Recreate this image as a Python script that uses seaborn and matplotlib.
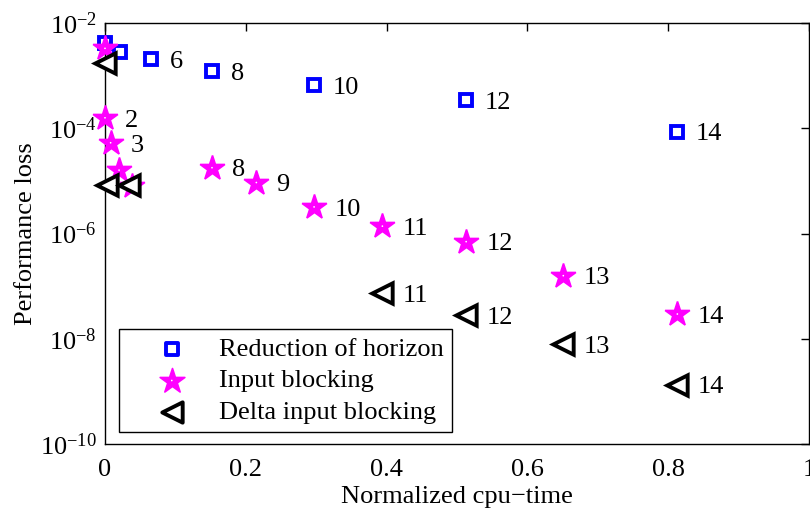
import matplotlib
matplotlib.use("Agg")
import matplotlib.pyplot as plt
import seaborn as sns

# Reduction of horizon
horizon_cpu = [0.000, 0.021, 0.065, 0.152, 0.297, 0.513, 0.813]
horizon_loss = [4.2e-3, 2.85e-3, 2.04e-3, 1.22e-3, 6.6e-4, 3.4e-4, 8.6e-5]
horizon_tags = ["", "", "6", "8", "10", "12", "14"]

# Input blocking
block_cpu = [0.000, 0.000, 0.008, 0.020, 0.038, 0.152, 0.215, 0.297, 0.394, 0.513, 0.651, 0.813]
block_loss = [3.3e-3, 1.58e-4, 5.3e-5, 1.6e-5, 8.1e-6, 1.78e-5, 9.3e-6, 3.2e-6, 1.38e-6, 7.0e-7, 1.58e-7, 2.95e-8]
block_tags = ["", "2", "3", "", "", "8", "9", "10", "11", "12", "13", "14"]

# Delta input blocking
delta_cpu = [0.000, 0.003, 0.034, 0.394, 0.513, 0.651, 0.813]
delta_loss = [1.71e-3, 8.4e-6, 8.4e-6, 7.3e-8, 2.8e-8, 7.8e-9, 1.35e-9]
delta_tags = ["", "", "", "11", "12", "13", "14"]

series_names = ["Reduction of horizon", "Input blocking", "Delta input blocking"]
x_ticks = [0, 0.2, 0.4, 0.6, 0.8, 1]
y_ticks = [1e-10, 1e-8, 1e-6, 1e-4, 1e-2]

sns.set_theme(style="white")
plt.rcParams.update({
    "font.family": ["Liberation Serif", "DejaVu Serif"],
    "mathtext.fontset": "custom",
    "mathtext.rm": "Liberation Serif",
    "mathtext.it": "Liberation Serif:italic",
    "mathtext.bf": "Liberation Serif:bold",
    "axes.edgecolor": "black",
    "axes.linewidth": 1.0,
    "text.color": "black",
    "axes.labelcolor": "black",
    "xtick.color": "black",
    "ytick.color": "black",
})

FS = 19

fig = plt.figure(figsize=(8.10, 5.17), dpi=100)
ax = fig.add_axes([105 / 810, 1 - 444 / 517, 704 / 810, 421 / 517])
ax.set_yscale("log")

sns.scatterplot(x=horizon_cpu, y=horizon_loss, ax=ax, marker="s", s=85,
                color="white", edgecolor="blue", linewidth=2.8,
                label=series_names[0], zorder=3, joinstyle="miter", clip_on=False)
h_sq = ax.collections[-1]

sns.scatterplot(x=block_cpu, y=block_loss, ax=ax, marker="*", s=350,
                color="magenta", edgecolor="magenta", linewidth=1.2,
                label=series_names[1], zorder=4, joinstyle="miter", clip_on=False)
h_star = ax.collections[-1]
sns.scatterplot(x=block_cpu, y=block_loss, ax=ax, marker="o", s=1.5,
                color="white", edgecolor="none", linewidth=0,
                legend=False, zorder=4.5, clip_on=False)
h_dot = ax.collections[-1]

sns.scatterplot(x=delta_cpu, y=delta_loss, ax=ax, marker="<", s=215,
                color="white", edgecolor="black", linewidth=2.8,
                label=series_names[2], zorder=5, joinstyle="miter", clip_on=False)
h_tri = ax.collections[-1]

# Horizon length next to each marker
for xs, ys, tags, dx in ((horizon_cpu, horizon_loss, horizon_tags, 13.5),
                         (block_cpu, block_loss, block_tags, 14.5),
                         (delta_cpu, delta_loss, delta_tags, 14.5)):
    for xv, yv, t in zip(xs, ys, tags):
        if t:
            ax.annotate(t, (xv, yv), xytext=(dx, -6.3), textcoords="offset points",
                        ha="left", va="baseline", fontsize=FS)

ax.set_xlim(0, 1)
ax.set_ylim(1e-10, 1e-2)
ax.set_xticks(x_ticks)
ax.set_xticklabels(["0", "0.2", "0.4", "0.6", "0.8", "1"])
ax.set_yticks(y_ticks)
ax.yaxis.set_minor_locator(matplotlib.ticker.NullLocator())
ax.tick_params(axis="both", which="major", direction="in", length=5.5, width=1.0,
               top=True, right=True, labelsize=FS)
ax.tick_params(axis="x", pad=10.5)
ax.tick_params(axis="y", pad=6)
for sp in ax.spines.values():
    sp.set_visible(True)
    sp.set_color("black")
    sp.set_linewidth(1.0)
ax.grid(False)

ax.set_xlabel("Normalized cpu\u2212time", fontsize=FS, labelpad=4)
ax.set_ylabel("Performance loss", fontsize=FS, labelpad=2)

leg = ax.legend(handles=[h_sq, (h_star, h_dot), h_tri], labels=series_names,
                loc="lower left", bbox_to_anchor=(14 / 704, 12 / 421),
                borderaxespad=0, fontsize=FS, frameon=True, fancybox=False,
                framealpha=1, edgecolor="black", borderpad=0.3,
                handlelength=3.4, handletextpad=0.1, labelspacing=0.31,
                scatterpoints=1)
leg.get_frame().set_linewidth(1.0)
leg.set_zorder(10)

fig.savefig("out.png", dpi=100)
